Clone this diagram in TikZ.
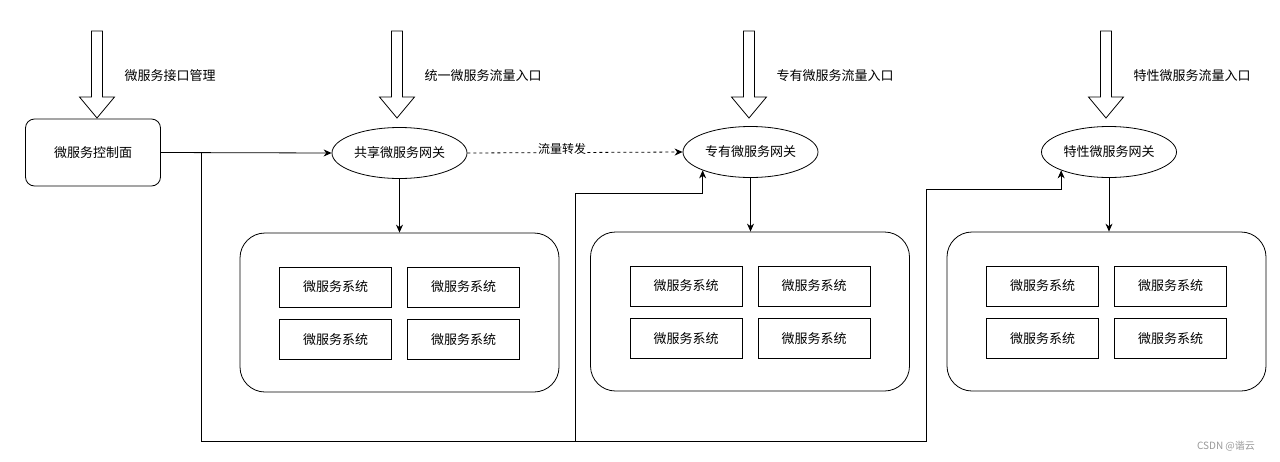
\documentclass[tikz,border=0pt]{standalone}
\usepackage{fontspec}
\setmainfont{Noto Sans CJK SC}
\usetikzlibrary{shapes.geometric,arrows.meta}

\begin{document}
\begin{tikzpicture}[x=1pt,y=-1pt,line width=0.8pt,
        font=\fontsize{13}{15}\selectfont,
        ctrl/.style={draw, rounded corners=9pt, minimum width=135pt, minimum height=67pt},
        gw/.style={draw, ellipse, minimum width=135pt, minimum height=51pt, inner sep=0pt},
        pool/.style={draw, rounded corners=25pt, minimum width=319pt, minimum height=159pt},
        svc/.style={draw, minimum width=112pt, minimum height=40pt, inner sep=0pt},
        arr/.style={-{Stealth[length=8pt,width=7pt]}}]
        \useasboundingbox (0,0) rectangle (1280,461);
        \fill[white] (0,0) rectangle (1280,461);

        % entry arrows from the top
        \foreach \x/\lbl/\n in {97/微服务接口管理/lblctrl, 397/统一微服务流量入口/lblshared,
                               749/专有微服务流量入口/lblown, 1106/特性微服务流量入口/lblfeat} {
            \draw[fill=white] (\x-5.5,31) -- (\x+5.5,31) -- (\x+5.5,97) -- (\x+17.5,97)
                -- (\x,118) -- (\x-17.5,97) -- (\x-5.5,97) -- cycle;
            \node[anchor=west] (\n) at (\x+24,76) {\lbl};
        }

        \node[ctrl] (ctrl) at (93,152.5) {微服务控制面};
        \node[gw] (shared) at (399.5,153) {共享微服务网关};
        \node[gw] (own) at (750.5,152) {专有微服务网关};
        \node[gw] (feat) at (1109,152) {特性微服务网关};

        \foreach \p/\px/\py in {pool1/399.5/312.5, pool2/750/311.5, pool3/1106.5/311.5} {
            \node[pool] (\p) at (\px,\py) {};
            \foreach \i/\dx/\dy in {a/-64/-25.5, b/64/-25.5, c/-64/27, d/64/27}
                \node[svc] (\p\i) at (\px+\dx,\py+\dy) {微服务系统};
        }

        \draw[arr] (ctrl.east) -- (shared.west);
        \draw[arr, dash pattern=on 3pt off 3pt] (shared.east) -- node[pos=0.44, fill=white, inner sep=1pt,
            yshift=4pt, font=\fontsize{12}{14}\selectfont] (fwd) {流量转发} (own.west);

        \draw[arr] (shared.south) -- (pool1.north);
        \draw[arr] (own.south) -- (own.south |- pool2.north);
        \draw[arr] (feat.south) -- (feat.south |- pool3.north);

        % control plane feeds the other gateways
        \coordinate (split) at (201,152.5);
        \draw[arr] (split) |- (575,441) |- ([yshift=-23.5pt]own.201) -- (own.201);
        \draw[arr] (split) |- (926,441) |- ([yshift=-18.7pt]feat.201) -- (feat.201);

        \node[text=gray!80, font=\fontsize{10}{12}\selectfont] (mark) at (1226,446) {CSDN @谐云};
    \end{tikzpicture}
\end{document}
